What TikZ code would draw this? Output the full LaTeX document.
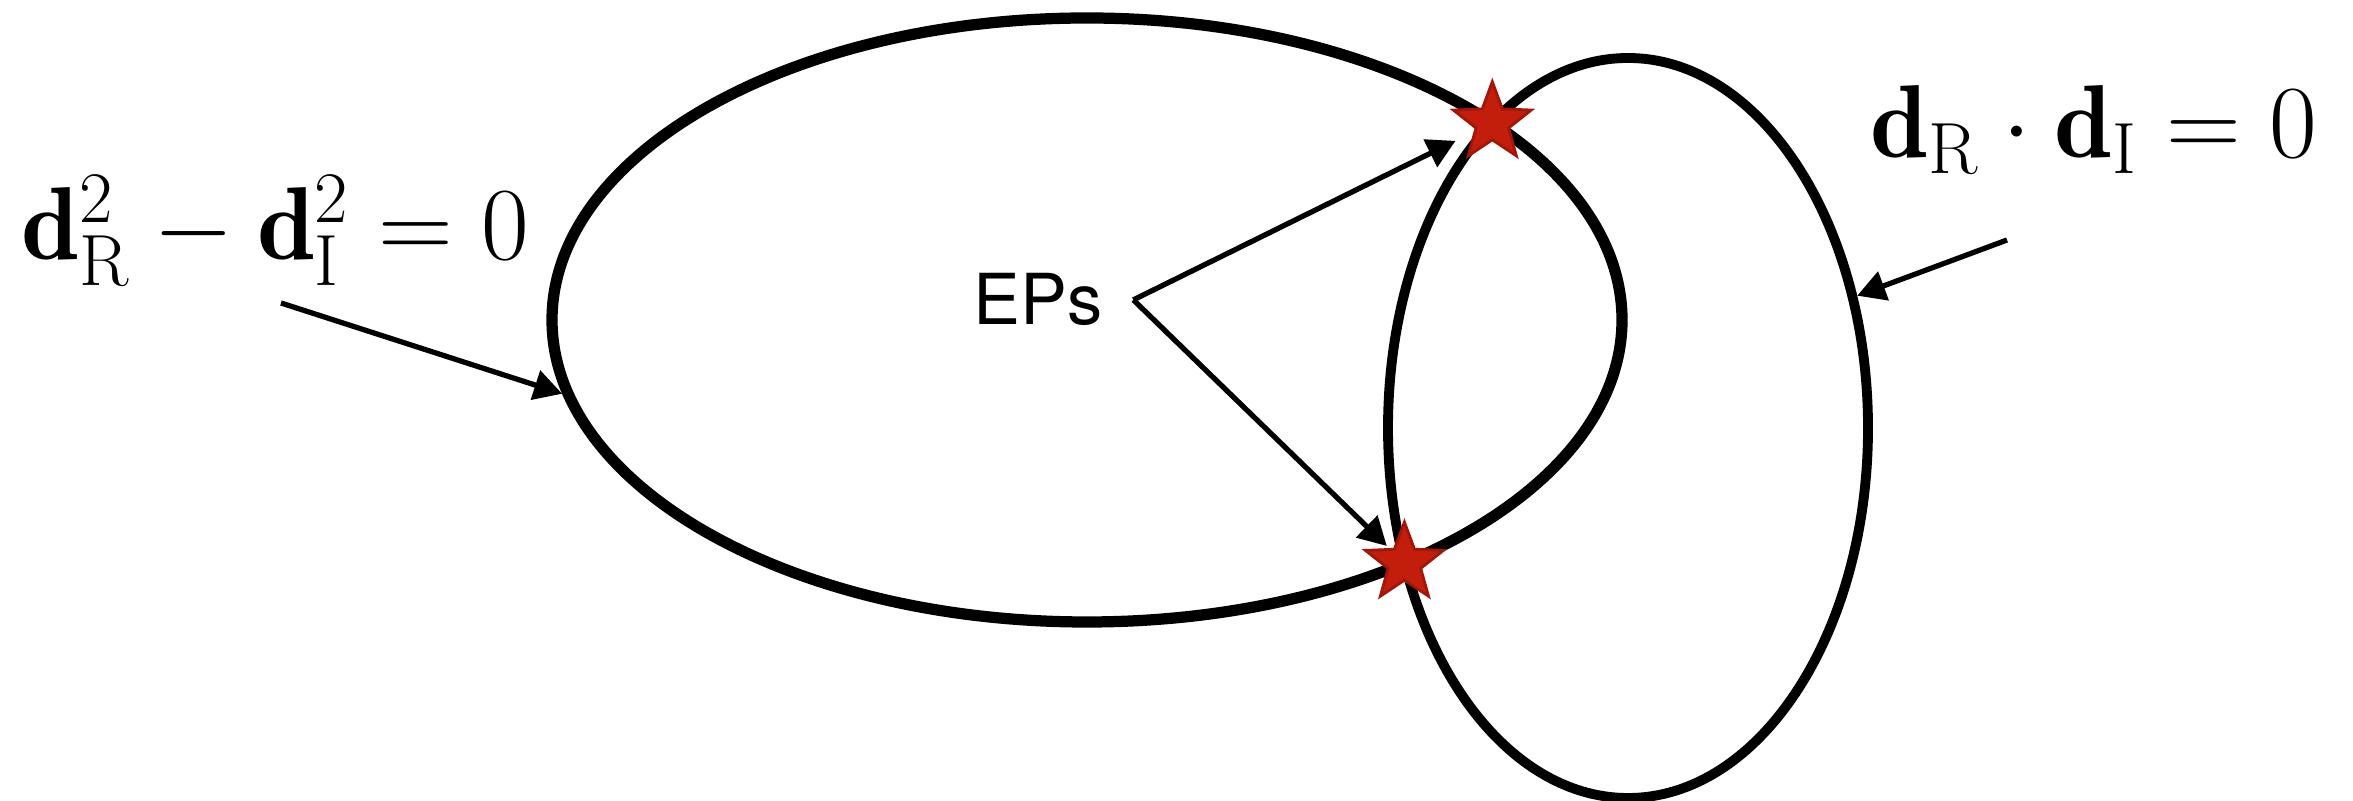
\documentclass[tikz,border=0pt]{standalone}
\usepackage{fix-cm}
\usepackage{amsmath}
\usepackage{fontspec}
\setsansfont{TeX Gyre Heros}
\usepackage{tikz}
\usetikzlibrary{arrows.meta, positioning, shapes.geometric, intersections}
\definecolor{starred}{HTML}{C21E0B}
\definecolor{starrim}{HTML}{A3170A}

\begin{document}
\begin{tikzpicture}[
        every node/.style={inner sep=0pt},
        oval/.style={draw, ellipse, inner sep=0pt},
        eqlabel/.style={anchor=base west, font=\fontsize{29.5}{35}\selectfont},
        arrow/.style={-{Triangle[length=8pt, width=8.5pt]}, line width=1.5pt},
        epstar/.style={star, star points=5, star point ratio=2.4, shape border rotate=0, minimum size=0.82cm, fill=starred, draw=starrim, line width=0.8pt}
    ]
    \useasboundingbox (0,0) rectangle (23.53,-8.01);
    % Nodes
    \node[oval, line width=3.2pt, minimum width=10.7cm, minimum height=6.04cm, name path=bigpath] (bigE) at (10.87,-3.20) {};
    \node[oval, line width=2.8pt, minimum width=4.8cm, minimum height=7.4cm, name path=smallpath] (smallE) at (16.28,-4.28) {};
    \node[eqlabel] (sumeq) at (0.21,-2.60) {$\mathbf{d}_{\mathrm{R}}^2-\mathbf{d}_{\mathrm{I}}^2=0$};
    \node[eqlabel] (doteq) at (18.70,-1.58) {$\mathbf{d}_{\mathrm{R}}\cdot\mathbf{d}_{\mathrm{I}}=0$};
    \node[anchor=base west, font=\sffamily\fontsize{20}{24}\selectfont] (eps) at (9.73,-3.25) {EPs};
    \path[name intersections={of=bigpath and smallpath, by={cross1,cross2}}];
    \node[epstar] (ep1) at (cross1) {};
    \node[epstar] (ep2) at (cross2) {};
    \coordinate (fork) at ([xshift=0.3cm]eps.east);
    \coordinate (sumfoot) at (2.81,-3.03);
    \coordinate (dotfoot) at (20.07,-2.40);

    % Arrows
    \draw[arrow] (sumfoot) -- (bigE.188);
    \draw[arrow] (dotfoot) -- (smallE.30);
    \draw[arrow, shorten >=0.2cm] (fork) -- (ep1);
    \draw[arrow, shorten >=0.03cm] (fork) -- (ep2);
\end{tikzpicture}
\end{document}
